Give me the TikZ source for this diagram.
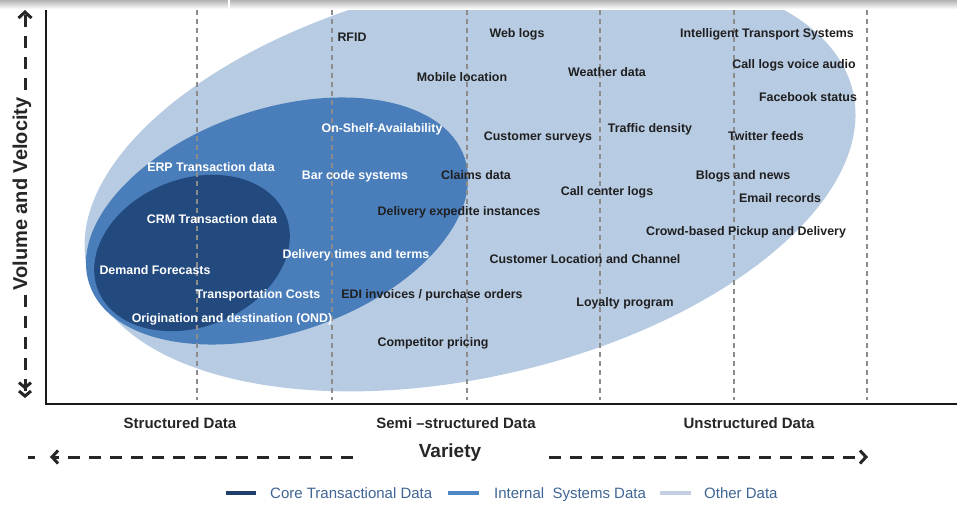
\documentclass[tikz,border=0pt]{standalone}
\usepackage{fontspec}
\setmainfont{Liberation Sans}
\usetikzlibrary{arrows.meta}

\definecolor{otherblue}{HTML}{B7CBE3}
\definecolor{internalblue}{HTML}{4A7EBB}
\definecolor{coreblue}{HTML}{234A7E}
\definecolor{gridgray}{HTML}{8C8C8C}
\definecolor{keytext}{HTML}{3F6494}
\definecolor{corekey}{HTML}{1F3F6B}
\definecolor{internalkey}{HTML}{4F86C6}
\definecolor{otherkey}{HTML}{C3CFDE}

\tikzset{
  item/.style={font=\fontsize{12.4}{14}\selectfont\bfseries, text=black!88, inner sep=0pt, text height=8.9pt, text depth=0pt},
  whiteitem/.style={item, text=white},
  cat/.style={font=\fontsize{15}{17}\selectfont\bfseries, text=black!85, inner sep=0pt, text height=10.7pt, text depth=0pt},
  keylabel/.style={font=\fontsize{15}{17}\selectfont, text=keytext, inner sep=0pt, anchor=west, text height=10.7pt, text depth=0pt},
  grid/.style={gridgray, line width=1.1pt, dash pattern=on 5pt off 4pt},
  axis/.style={black!90, line width=2.6pt},
  axarrow/.style={black!85, line width=3pt, dash pattern=on 12pt off 9pt, -{Straight Barb[length=6pt,width=13pt]}},
  keyline/.style={line width=4pt},
}

\begin{document}
\begin{tikzpicture}[x=1pt,y=-1pt]
\useasboundingbox (0,0) rectangle (957,506);

% data sets
\begin{scope}
\clip (0,0) rectangle (957,506);
\fill[otherblue, rotate around={13:(470,180)}] (470,180) ellipse [x radius=393, y radius=197];
\fill[internalblue, rotate around={18.6:(277,221)}] (277,221) ellipse [x radius=198, y radius=112];
\fill[coreblue, rotate around={21.5:(192,253)}] (192,253) ellipse [x radius=101, y radius=74];
\end{scope}

% grid
\foreach \gx in {197,332,467,600,734,867}
  \draw[grid] (\gx,10) -- (\gx,400);

% axes
\coordinate (ytop) at (46,8);
\coordinate (origin) at (46,404);
\coordinate (xend) at (957,404);
\draw[axis] (ytop) -- (origin) -- (xend);

% other data
\node[item] (rfid) at (352,37) {RFID};
\node[item] (weblogs) at (517,33) {Web logs};
\node[item] (mobileloc) at (462,77) {Mobile location};
\node[item] (weather) at (607,72) {Weather data};
\node[item] (its) at (767,33) {Intelligent Transport Systems};
\node[item] (calllogs) at (794,64) {Call logs voice audio};
\node[item] (facebook) at (808,97) {Facebook status};
\node[item] (surveys) at (538,136) {Customer surveys};
\node[item] (traffic) at (650,128) {Traffic density};
\node[item] (twitter) at (766,136) {Twitter feeds};
\node[item] (claims) at (476,175) {Claims data};
\node[item] (blogs) at (743,175) {Blogs and news};
\node[item] (callcenter) at (607,191) {Call center logs};
\node[item] (email) at (780,198) {Email records};
\node[item] (expedite) at (459,211) {Delivery expedite instances};
\node[item] (crowd) at (746,231) {Crowd-based Pickup and Delivery};
\node[item] (custloc) at (585,259) {Customer Location and Channel};
\node[item] (edi) at (432,294) {EDI invoices / purchase orders};
\node[item] (loyalty) at (625,302) {Loyalty program};
\node[item] (competitor) at (433,342) {Competitor pricing};

% internal and core data
\node[whiteitem] (onshelf) at (382,128) {On-Shelf-Availability};
\node[whiteitem] (erp) at (211,167) {ERP Transaction data};
\node[whiteitem] (barcode) at (355,175) {Bar code systems};
\node[whiteitem] (crm) at (212,219) {CRM Transaction data};
\node[whiteitem] (delivtimes) at (356,254) {Delivery times and terms};
\node[whiteitem] (demand) at (155,270) {Demand Forecasts};
\node[whiteitem] (transcost) at (258,294) {Transportation Costs};
\node[whiteitem] (ond) at (232,318) {Origination and destination (OND)};

% variety axis
\node[cat] (structured) at (180,423) {Structured Data};
\node[cat] (semi) at (456,423) {Semi --structured Data};
\node[cat] (unstructured) at (749,423) {Unstructured Data};
\node[cat, font=\fontsize{19}{21}\selectfont\bfseries, text height=13.5pt] (variety) at (450,451) {Variety};
\coordinate (xtip) at (50,457);
\coordinate (xtip2) at (868,457);
\draw[axarrow, shorten <=66pt] (variety.west |- xtip) -- (xtip);
\draw[axarrow, shorten <=68pt] (variety.east |- xtip2) -- (xtip2);
\draw[black!85, line width=3pt] ([xshift=-22pt]xtip) -- ++(7,0);

% volume axis
\node[cat, font=\fontsize{20}{22}\selectfont\bfseries, text height=14.3pt, rotate=90] (vol) at (20,194) {Volume and Velocity};
\coordinate (ytip) at (25,10);
\coordinate (ybot) at (25,398);
\draw[axarrow, shorten <=7pt] (vol.east -| ytip) -- (ytip);
\draw[axarrow, shorten <=4pt, -{Straight Barb[length=5pt,width=12pt]Straight Barb[length=5pt,width=12pt]}] (vol.west -| ybot) -- (ybot);

% legend
\node[keylabel] (corekeytext) at (270,493) {Core Transactional Data};
\draw[keyline, corekey] ([xshift=-14pt]corekeytext.west) -- ++(-30,0);
\node[keylabel] (internalkeytext) at (494,493) {Internal\ \ Systems Data};
\draw[keyline, internalkey] ([xshift=-15pt]internalkeytext.west) -- ++(-31,0);
\node[keylabel] (otherkeytext) at (704,493) {Other Data};
\draw[keyline, otherkey] ([xshift=-13pt]otherkeytext.west) -- ++(-31,0);

% top band
\shade[top color=black!30, bottom color=white] (0,0) rectangle (957,9);
\fill[white] (227.5,0) rectangle (230,9);
\end{tikzpicture}
\end{document}
